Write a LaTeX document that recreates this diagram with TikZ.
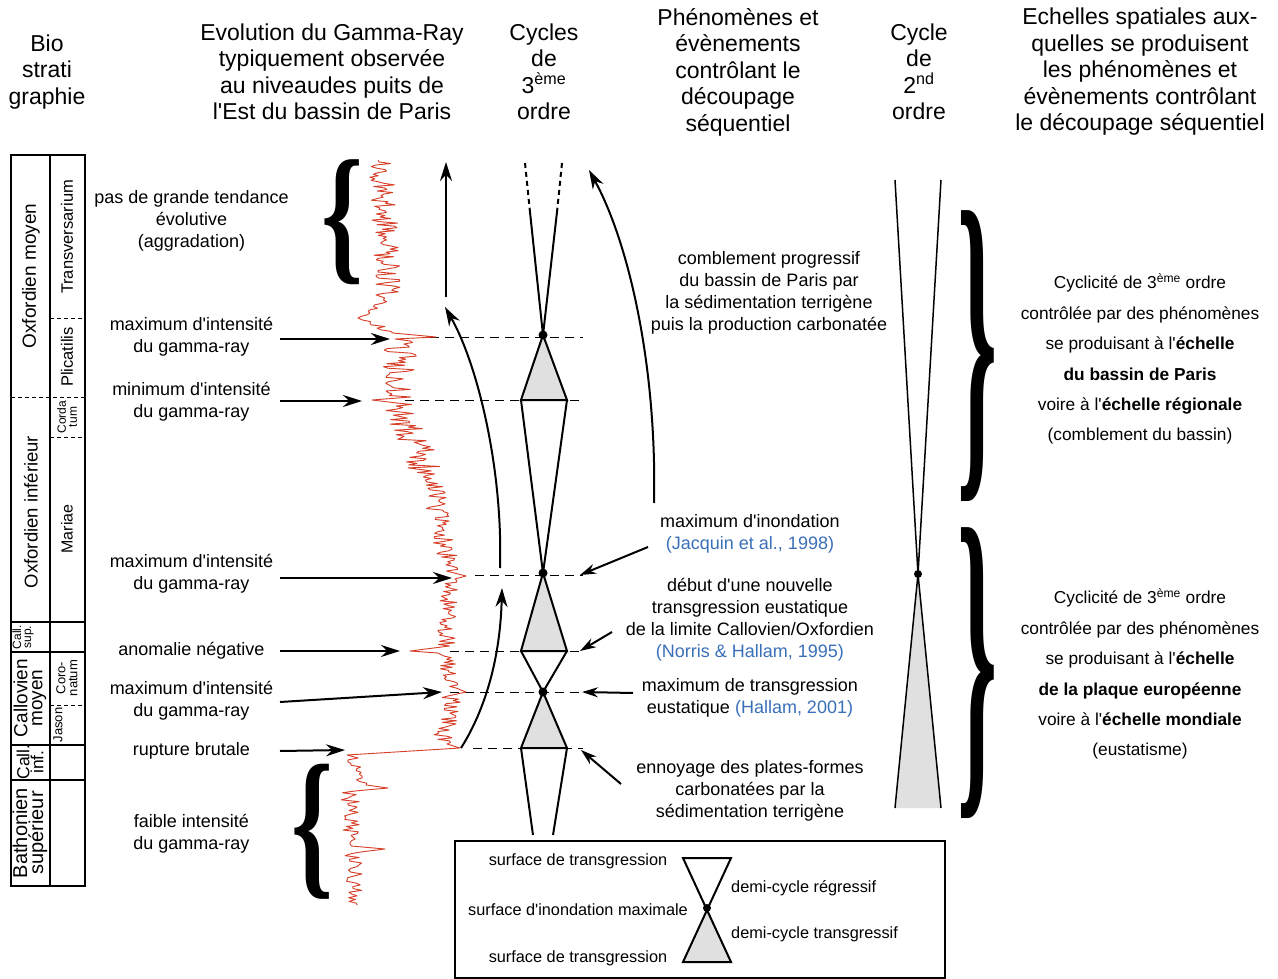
\documentclass[tikz,border=0pt]{standalone}
\usepackage{fontspec}
\setmainfont{Liberation Sans}[Ligatures=TeXOff]
\newfontfamily\bracefont{Liberation Serif}
\usepackage{graphicx}
\usetikzlibrary{arrows.meta}
\definecolor{grcurve}{RGB}{214,62,40}
\definecolor{citeblue}{RGB}{58,112,184}
\definecolor{trifill}{RGB}{224,224,224}
\begin{document}
\begin{tikzpicture}[x=1pt,y=-1pt,
  hdr/.style={font=\fontsize{23}{26.5}\selectfont, align=center, inner sep=0pt},
  lbl/.style={font=\fontsize{18}{22}\selectfont, align=center, inner sep=0pt},
  rtxt/.style={font=\fontsize{17.3}{30.4}\selectfont, align=center, inner sep=0pt},
  lgd/.style={font=\fontsize{16.3}{19}\selectfont, inner sep=0pt},
  stage/.style={font=\fontsize{19}{15}\selectfont, rotate=90, align=center, inner sep=0pt},
  zone/.style={font=\fontsize{16.5}{13}\selectfont, rotate=90, align=center, inner sep=0pt},
  tbl/.style={line width=1.2pt},
  tbldash/.style={line width=1pt, dash pattern=on 4pt off 3pt},
  bigarrow/.style={line width=2pt, -{Stealth[length=19pt,width=12pt]}},
  ptr/.style={line width=2pt, -{Stealth[length=16pt,width=10pt]}},
  cyc/.style={line width=2pt, line join=miter},
  hline/.style={line width=1pt, dash pattern=on 9pt off 6pt},
  bracenode/.style={inner sep=0pt, outer sep=0pt},
]
\useasboundingbox (0,0) rectangle (1278,979);
\fill[white] (0,0) rectangle (1278,979);

% ---------------- headers
\node[hdr] (hBio) at (47,72) {Bio\\strati\\graphie};
\node[hdr] (hGR) at (332,72) {Evolution du Gamma-Ray\\typiquement observée\\au niveaudes puits de\\l'Est du bassin de Paris};
\node[hdr] (hC3) at (544,72) {Cycles\\de\\3\textsuperscript{ème}\\ordre};
\node[hdr] (hPh) at (738,72) {Phénomènes et\\évènements\\contrôlant le\\découpage\\séquentiel};
\node[hdr] (hC2) at (919,72) {Cycle\\de\\2\textsuperscript{nd}\\ordre};
\node[hdr] (hEch) at (1140,72) {Echelles spatiales aux-\\quelles se produisent\\les phénomènes et\\évènements contrôlant\\le découpage séquentiel};

% ---------------- stratigraphic table
\draw[tbl] (11,155) rectangle (85,886);
\draw[tbl] (50,155) -- (50,886);
\draw[tbldash] (11,397) -- (85,397);
\draw[tbl] (11,622) -- (85,622);
\draw[tbl] (11,652) -- (85,652);
\draw[tbl] (11,745) -- (85,745);
\draw[tbl] (11,780) -- (85,780);
\draw[tbldash] (50,318) -- (85,318);
\draw[tbldash] (50,437) -- (85,437);
\draw[tbldash] (50,705) -- (85,705);

\node[stage] (sOxM) at (31,276) {Oxfordien moyen};
\node[stage, font=\fontsize{18.5}{15}\selectfont] (sOxI) at (31,512) {Oxfordien inférieur};
\node[stage, font=\fontsize{12}{10}\selectfont] (sCS) at (23,637) {Call.\\sup.};
\node[stage] (sCM) at (30,698) {Callovien\\moyen};
\node[stage, font=\fontsize{17.5}{14}\selectfont] (sCI) at (30,762) {Call.\\inf.};
\node[stage, font=\fontsize{20}{16}\selectfont] (sBS) at (30,833) {Bathonien\\supérieur};

\node[zone] (zTr) at (67,237) {Transversarium};
\node[zone] (zPl) at (67,357) {Plicatilis};
\node[zone, font=\fontsize{12}{11}\selectfont] (zCo) at (67,417) {Corda\\tum};
\node[zone, font=\fontsize{16}{13}\selectfont] (zMa) at (67,529) {Mariae};
\node[zone, font=\fontsize{13}{12}\selectfont] (zCn) at (67,678) {Coro-\\natum};
\node[zone, font=\fontsize{13}{12}\selectfont] (zJa) at (58,725) {Jason};

% ---------------- dashed correlation lines
\draw[hline] (430,337) -- (583,337);
\draw[hline] (405,400) -- (583,400);
\draw[hline] (475,575) -- (583,575);
\draw[hline] (450,651) -- (583,651);
\draw[hline] (450,692) -- (583,692);
\draw[hline] (473,748) -- (583,748);

% ---------------- gamma-ray curve
\pgfmathsetseed{4321}
\draw[grcurve, line width=0.9pt, line join=round]
  (378,160)
  -- plot[variable=\t, domain=162:298, samples=90] ({382+6*(\t-162)/136+13*rand}, \t)
  -- plot[variable=\t, domain=300:318, samples=12] ({385-23*(\t-300)/18+5*rand}, \t)
  -- plot[variable=\t, domain=320:333, samples=9] ({368+24*(\t-320)/13+7*rand}, \t)
  -- (436,337) -- (395,339)
  -- plot[variable=\t, domain=341:397, samples=38] ({402-6*(\t-341)/56+17*rand}, \t)
  -- (372,400)
  -- plot[variable=\t, domain=403:480, samples=52] ({398+32*(\t-403)/77+17*rand}, \t)
  -- plot[variable=\t, domain=482:571, samples=58] ({432+18*(\t-482)/89+11*rand}, \t)
  -- (466,576)
  -- plot[variable=\t, domain=579:646, samples=44] ({452-6*(\t-579)/67+10*rand}, \t)
  -- (410,651) -- (438,653)
  -- plot[variable=\t, domain=656:688, samples=21] ({446+6*(\t-656)/32+10*rand}, \t)
  -- (466,692)
  -- plot[variable=\t, domain=696:744, samples=32] ({452-10*(\t-696)/48+10*rand}, \t)
  -- (460,748) -- (347,755)
  -- plot[variable=\t, domain=758:785, samples=16] ({352+8*(\t-758)/27+8*rand}, \t)
  -- (388,788)
  -- plot[variable=\t, domain=791:846, samples=32] ({350+2*(\t-791)/55+9*rand}, \t)
  -- (385,849)
  -- plot[variable=\t, domain=852:905, samples=30] ({352+3*(\t-852)/53+9*rand}, \t);

% ---------------- left labels and arrows
\node[lbl] (tPas) at (191.5,221) {pas de grande tendance\\évolutive\\(aggradation)};
\node[lbl] (tMax1) at (191.5,337) {maximum d'intensité\\du gamma-ray};
\node[lbl] (tMin) at (191.5,402) {minimum d'intensité\\du gamma-ray};
\node[lbl] (tMax2) at (191.5,574) {maximum d'intensité\\du gamma-ray};
\node[lbl] (tAno) at (191.5,651) {anomalie négative};
\node[lbl] (tMax3) at (191.5,701) {maximum d'intensité\\du gamma-ray};
\node[lbl] (tRup) at (191.5,751) {rupture brutale};
\node[lbl] (tFai) at (191.5,834) {faible intensité\\du gamma-ray};

\coordinate (aMax1s) at (280,339); \coordinate (aMax1e) at (390,339);
\coordinate (aMins) at (280,401);  \coordinate (aMine) at (362,401);
\coordinate (aMax2s) at (280,578); \coordinate (aMax2e) at (452,578);
\coordinate (aAnos) at (280,651);  \coordinate (aAnoe) at (400,651);
\coordinate (aMax3s) at (280,702); \coordinate (aMax3e) at (442,692);
\coordinate (aRups) at (280,751);  \coordinate (aRupe) at (345,750);
\draw[bigarrow] (aMax1s) -- (aMax1e);
\draw[bigarrow] (aMins) -- (aMine);
\draw[bigarrow] (aMax2s) -- (aMax2e);
\draw[bigarrow] (aAnos) -- (aAnoe);
\draw[bigarrow] (aMax3s) -- (aMax3e);
\draw[bigarrow] (aRups) -- (aRupe);

% braces
\node[bracenode] (brL1) at (343,222) {\resizebox*{42pt}{125pt}{\bracefont\bfseries\{}};
\node[bracenode] (brL2) at (313,832) {\resizebox*{42pt}{135pt}{\bracefont\bfseries\{}};
\node[bracenode] (brR1) at (978,356) {\resizebox*{40pt}{290pt}{\bracefont\bfseries\}}};
\node[bracenode] (brR2) at (978,673) {\resizebox*{40pt}{290pt}{\bracefont\bfseries\}}};

% ---------------- trend arrows
\coordinate (vA0) at (446,297); \coordinate (vA1) at (446,162);
\draw[bigarrow] (vA0) -- (vA1);
\coordinate (cB0) at (500,568); \coordinate (cB1) at (445,307);
\draw[bigarrow] (cB0) .. controls (503,470) and (478,365) .. (cB1);
\coordinate (cA0) at (461,748); \coordinate (cA1) at (502,588);
\draw[bigarrow] (cA0) .. controls (482,715) and (500,665) .. (cA1);
\coordinate (cC0) at (654,503); \coordinate (cC1) at (589,170);
\draw[bigarrow] (cC0) .. controls (657,370) and (630,245) .. (cC1);

% ---------------- third-order cycles
\coordinate (d1) at (543,335);
\coordinate (d2) at (543,573);
\coordinate (d3) at (543,692);
\draw[line width=2pt, dash pattern=on 5pt off 4pt] (525,163) -- (530,212);
\draw[line width=2pt, dash pattern=on 5pt off 4pt] (562,163) -- (557,212);
\draw[cyc] (530,212) -- (d1) -- (557,212);
\filldraw[cyc, fill=trifill] (d1) -- (567,400) -- (521,400) -- cycle;
\draw[cyc] (521,400) -- (d2) -- (567,400);
\filldraw[cyc, fill=trifill] (d2) -- (567,651) -- (521,651) -- cycle;
\draw[cyc] (521,651) -- (d3) -- (567,651);
\filldraw[cyc, fill=trifill] (d3) -- (567,748) -- (521,748) -- cycle;
\draw[cyc] (521,748) -- (533,835);
\draw[cyc] (567,748) -- (553,835);
\fill (d1) circle (4.5);
\fill (d2) circle (4.5);
\fill (d3) circle (4.5);

% ---------------- middle texts
\node[lbl] (tComb) at (769,293) {comblement progressif\\du bassin de Paris par\\la sédimentation terrigène\\puis la production carbonatée};
\node[lbl] (tMFS) at (750,534) {maximum d'inondation\\\textcolor{citeblue}{(Jacquin et al., 1998)}};
\node[lbl] (tDeb) at (750,620) {début d'une nouvelle\\transgression eustatique\\de la limite Callovien/Oxfordien\\\textcolor{citeblue}{(Norris \& Hallam, 1995)}};
\node[lbl] (tMTE) at (750,698) {maximum de transgression\\eustatique \textcolor{citeblue}{(Hallam, 2001)}};
\node[lbl] (tEnn) at (750,791) {ennoyage des plates-formes\\carbonatées par la\\sédimentation terrigène};

\coordinate (mA1s) at (648,547); \coordinate (mA1e) at (580,575);
\coordinate (mA2s) at (612,632); \coordinate (mA2e) at (580,651);
\coordinate (mA3s) at (633,693); \coordinate (mA3e) at (582,692);
\coordinate (mA4s) at (621,784); \coordinate (mA4e) at (581,750);
\draw[ptr] (mA1s) -- (mA1e);
\draw[ptr] (mA2s) -- (mA2e);
\draw[ptr] (mA3s) -- (mA3e);
\draw[ptr] (mA4s) -- (mA4e);

% ---------------- second-order cycle
\coordinate (d4) at (918,574);
\fill[trifill] (d4) -- (941,808) -- (895,808) -- cycle;
\draw[line width=1.5pt] (895,180) -- (d4) -- (941,808);
\draw[line width=1.5pt] (941,180) -- (d4) -- (895,808);
\fill (d4) circle (4);

% ---------------- right texts
\node[rtxt] (tUp) at (1140,359) {Cyclicité de 3\textsuperscript{ème} ordre\\contrôlée par des phénomènes\\se produisant à l'\textbf{échelle}\\\textbf{du bassin de Paris}\\voire à l'\textbf{échelle régionale}\\(comblement du bassin)};
\node[rtxt] (tLo) at (1140,674) {Cyclicité de 3\textsuperscript{ème} ordre\\contrôlée par des phénomènes\\se produisant à l'\textbf{échelle}\\\textbf{de la plaque européenne}\\voire à l'\textbf{échelle mondiale}\\(eustatisme)};

% ---------------- legend
\draw[line width=1.5pt] (455,841) rectangle (945,978);
\node[lgd] (lT1) at (578,861) {surface de transgression};
\node[lgd] (lMFS) at (578,910) {surface d'inondation maximale};
\node[lgd] (lT2) at (578,958) {surface de transgression};
\node[lgd, anchor=west] (lReg) at (731,888) {demi-cycle régressif};
\node[lgd, anchor=west] (lTr) at (731,934) {demi-cycle transgressif};
\coordinate (ld) at (707,908);
\fill[trifill] (ld) -- (731,962) -- (683,962) -- cycle;
\draw[cyc] (683,858) -- (731,858) -- (683,962) -- (731,962) -- cycle;
\fill (ld) circle (4);
\end{tikzpicture}
\end{document}
